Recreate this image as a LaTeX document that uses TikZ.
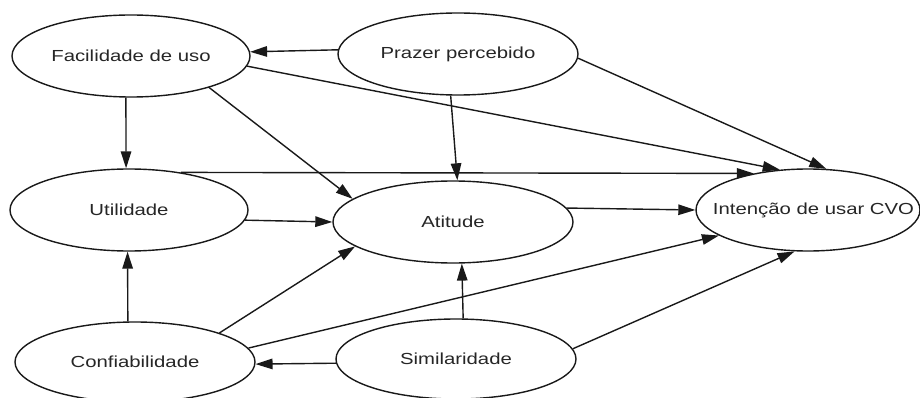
\documentclass[tikz,border=0pt]{standalone}
\usepackage{fontspec}
\setmainfont{Liberation Sans}[FakeStretch=1.27]
\usetikzlibrary{arrows.meta,shapes.geometric}
\begin{document}
\begin{tikzpicture}[x=1pt,y=-1pt,
  var/.style={draw=black!90, line width=1.4pt, ellipse, inner sep=0pt, fill=white,
    minimum width=240pt, minimum height=82pt, font=\fontsize{16}{18}\selectfont, text=black!85},
  link/.style={draw=black!90, line width=1.4pt, -{Triangle[length=17pt,width=10.5pt]}}]
\useasboundingbox (0,0) rectangle (920,398);
\node[var, minimum width=238pt] (fac) at (131,56) {\makebox[0pt]{Facilidade de uso}};
\node[var] (pra) at (458,54) {\makebox[0pt]{Prazer percebido}};
\node[var, minimum width=238pt] (uti) at (129,210) {\makebox[0pt]{Utilidade}};
\node[var] (ati) at (453,222) {\makebox[0pt]{Atitude}};
\node[var, minimum width=224pt] (int) at (808,210) {\makebox[0pt]{\kern11pt Intenção de usar CVO}};
\node[var, minimum height=80pt] (con) at (135,362) {\makebox[0pt]{Confiabilidade}};
\node[var, minimum height=80pt] (sim) at (456,359) {\makebox[0pt]{Similaridade}};
\draw[link] (pra.178) -- (fac.2);
\draw[link] (fac.263) -- (uti.94.2);
\draw[link] (fac.-22.8) -- (ati.167.9);
\draw[link] (fac.-5.4) -- (int.125);
\draw[link] (pra.260.3) -- (ati.84.4);
\draw[link] (pra.-2) -- (int.66);
\draw[link] (uti.36) -- (int.146.8);
\draw[link] (uti.-5.8) -- (ati.180);
\draw[link] (ati.7) -- (int.180);
\draw[link] (con.100) -- (uti.268.6);
\draw[link] (con.19.3) -- (ati.194);
\draw[link] (con.7.6) -- (int.196.2);
\draw[link] (sim.80) -- (ati.282.4);
\draw[link] (sim.5.4) -- (int.252.4);
\draw[link] (sim.182.9) -- (con.-1.4);
\end{tikzpicture}
\end{document}
